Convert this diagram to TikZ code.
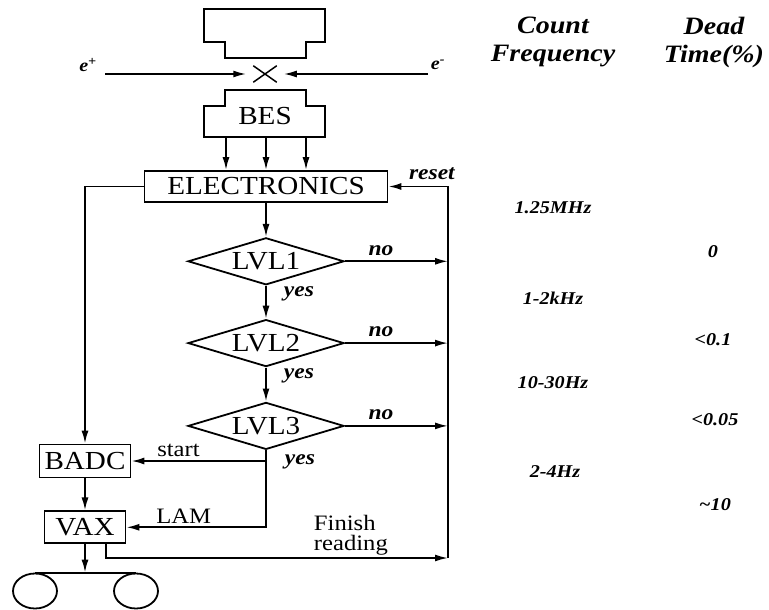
\documentclass[tikz,border=0pt]{standalone}
\usepackage{fontspec}
\setmainfont[FakeStretch=1.12]{Liberation Serif}
\usetikzlibrary{positioning,shapes.geometric,shapes.misc,arrows.meta,calc}

\newcommand{\boxfont}{\fontsize{26}{28}\selectfont}
\newcommand{\notefont}{\fontsize{22}{20}\selectfont}
\newcommand{\flagfont}{\fontsize{21}{24}\selectfont\bfseries\itshape}
\newcommand{\headfont}{\fontsize{25}{28}\selectfont\bfseries\itshape}
\newcommand{\ratefont}{\fontsize{18}{20}\selectfont\bfseries\itshape}

\begin{document}
\begin{tikzpicture}[x=1pt,y=-1pt,
    unit/.style={rectangle,draw,line width=1.8pt,font=\boxfont,inner sep=0pt},
    test/.style={diamond,draw,line width=1.8pt,font=\boxfont,aspect=3.3,inner sep=0pt,minimum width=156pt,minimum height=47pt},
    tape/.style={ellipse,draw,line width=1.8pt,minimum width=44pt,minimum height=35pt},
    flag/.style={font=\flagfont,inner sep=2pt},
    note/.style={font=\notefont,inner sep=3pt},
    arrow/.style={-{Latex[length=13pt,width=7pt]},line width=1.8pt}
]
\useasboundingbox (0,0) rectangle (769,610);

% Detector halves and interaction point
\draw[line width=1.8pt] (204,9) -- (325,9) -- (325,42) -- (306,42) -- (306,58) -- (225,58) -- (225,42) -- (204,42) -- cycle;
\node[cross out,draw,line width=1.5pt,minimum width=22pt,minimum height=15pt,inner sep=0pt] (ip) at (265,74) {};
\draw[line width=1.8pt] (225,90) -- (306,90) -- (306,106) -- (325,106) -- (325,137) -- (204,137) -- (204,106) -- (225,106) -- cycle;
\node[font=\boxfont] (bes) at (265,116) {BES};
\coordinate (besbot) at (266,137);

% Beams
\node[flag,font=\fontsize{18}{20}\selectfont\bfseries\itshape] (eplus) at (88,65) {e\textsuperscript{+}};
\node[flag,font=\fontsize{18}{20}\selectfont\bfseries\itshape] (eminus) at (438,65) {e\textsuperscript{-}};
\coordinate (pin) at (105,74);
\coordinate (min) at (428,74);
\draw[arrow,shorten >=7pt] (pin) -- (ip.west);
\draw[arrow,shorten >=7pt] (min) -- (ip.east);

% Trigger chain
\node[unit,minimum width=243pt,minimum height=31pt] (elec) at (266,186.5) {ELECTRONICS};
\foreach \dx in {-40,0,40}
  \draw[arrow] ([xshift=\dx pt]besbot) -- ([xshift=\dx pt]elec.north);

\node[test,below=34pt of elec] (lvl1) {LVL1};
\node[test,below=33pt of lvl1] (lvl2) {LVL2};
\node[test,below=34pt of lvl2] (lvl3) {LVL3};

\draw[arrow] (elec) -- (lvl1);
\draw[arrow] (lvl1) -- node[flag,right,pos=0.25,xshift=15pt] (yes1) {yes} (lvl2);
\draw[arrow] (lvl2) -- node[flag,right,pos=0.25,xshift=15pt] (yes2) {yes} (lvl3);

% Reset loop
\coordinate (rtop) at (448,186.5);
\coordinate (rbot) at (448,558);
\draw[arrow] (rbot) -- (rtop) -- node[flag,above,pos=0.27,yshift=4pt] (resetlbl) {reset} (elec.east);
\draw[arrow] (lvl1.east) -- node[flag,above,pos=0.35,yshift=3pt] (no1) {no} (lvl1.east -| rtop);
\draw[arrow] (lvl2.east) -- node[flag,above,pos=0.35,yshift=3pt] (no2) {no} (lvl2.east -| rtop);
\draw[arrow] (lvl3.east) -- node[flag,above,pos=0.35,yshift=3pt] (no3) {no} (lvl3.east -| rtop);

% Readout
\node[unit,minimum width=91pt,minimum height=33pt] (badc) at (85,461) {BADC};
\node[unit,minimum width=81pt,minimum height=32pt,below=32pt of badc] (vax) {VAX};

\draw[arrow] (elec.west) -| (badc.north);
\draw[arrow] (badc) -- (vax);
\draw[arrow] (lvl3.south) |- node[flag,right,pos=0.075,xshift=16pt] (yes3) {yes} (vax.east);
\draw[arrow] (lvl3.south |- badc.east) -- node[note,above,pos=0.65] (startlbl) {start} (badc.east);
\node[note,above=1pt of $(lvl3.south |- vax.east)!0.59!(vax.east)$] (lamlbl) {LAM};
\draw[arrow] ($(vax.south)!0.5!(vax.south east)$) |- node[note,above right,pos=0.8,align=left,inner sep=2pt] (finishlbl) {Finish\\reading} (rbot);

% Tape drives
\node[tape] (tapeA) at (35,591) {};
\node[tape] (tapeB) at (136,591) {};
\draw[line width=1.8pt] (tapeA.north) -- (tapeB.north);
\draw[arrow] (vax.south) -- (vax.south |- tapeA.north);

% Rates and dead time
\node[font=\headfont,align=center] (hdrfreq) at (553,42) {Count\\Frequency};
\node[font=\headfont,align=center] (hdrdead) at (714,42) {Dead\\Time(\%)};

\node[font=\ratefont] (rate1) at (553,208) {1.25MHz};
\node[font=\ratefont] (rate2) at (553,298) {1-2kHz};
\node[font=\ratefont] (rate3) at (553,383) {10-30Hz};
\node[font=\ratefont] (rate4) at (555,472) {2-4Hz};

\node[font=\ratefont] (dead1) at (713,252) {0};
\node[font=\ratefont] (dead2) at (713,340) {<0.1};
\node[font=\ratefont] (dead3) at (715,420) {<0.05};
\node[font=\ratefont] (dead4) at (715,505) {\textasciitilde10};

\end{tikzpicture}
\end{document}
